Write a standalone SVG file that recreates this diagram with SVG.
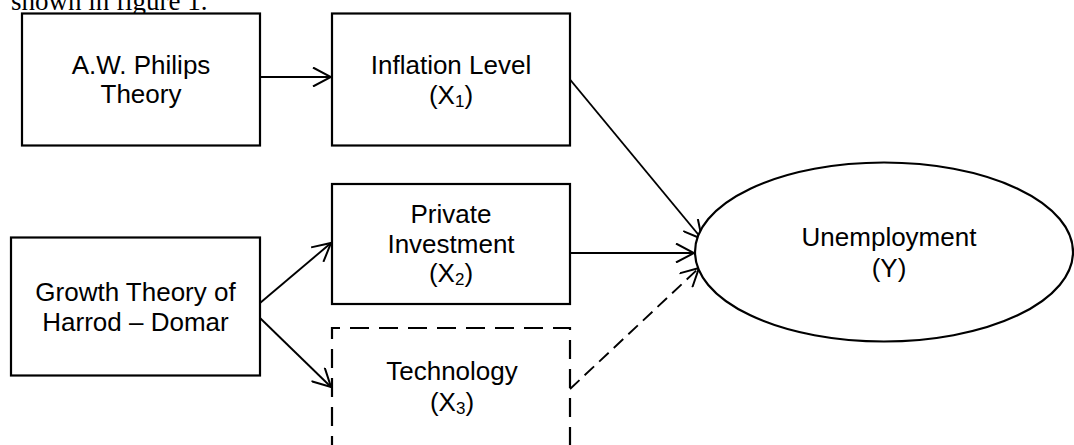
<svg xmlns="http://www.w3.org/2000/svg" width="1074" height="445" viewBox="0 0 1074 445">
<style>
  .box { fill: #ffffff; stroke: #000000; stroke-width: 2.2; }
  .dbox { fill: none; stroke: #000000; stroke-width: 2.2; stroke-dasharray: 19 10; }
  .lbl { font-family: "Liberation Sans", Arial, sans-serif; font-size: 26px; fill: #000000; text-anchor: middle; }
  .sub { font-size: 17px; }
  .conn { fill: none; stroke: #000000; stroke-width: 1.9; }
  .dash { stroke-dasharray: 13 7; }
  .cap { font-family: "Liberation Serif", "Times New Roman", serif; font-size: 27px; fill: #000000; }
</style>
<defs>
  <marker id="arr" viewBox="0 0 20 20" markerUnits="userSpaceOnUse" markerWidth="20" markerHeight="20" refX="19" refY="10" orient="auto">
    <path d="M1,0.5 L19,10 L1,19.5" fill="none" stroke="#000000" stroke-width="2" stroke-dasharray="none"/>
  </marker>
</defs>
<rect width="1074" height="445" fill="#ffffff"/>
<text class="cap" x="11" y="10">shown in figure 1.</text>

<g id="connectors">
  <line class="conn" x1="260" y1="77" x2="331" y2="77" marker-end="url(#arr)"/>
  <line class="conn" x1="570" y1="79.5" x2="702" y2="239" marker-end="url(#arr)"/>
  <line class="conn" x1="570" y1="253" x2="694" y2="253" marker-end="url(#arr)"/>
  <line class="conn" x1="260" y1="303" x2="331" y2="243" marker-end="url(#arr)"/>
  <line class="conn" x1="260" y1="318" x2="331" y2="387" marker-end="url(#arr)"/>
  <line class="conn dash" x1="570" y1="389" x2="699" y2="268" marker-end="url(#arr)"/>
</g>

<g id="node-philips">
  <rect class="box" x="22" y="13.5" width="238" height="132"/>
  <text class="lbl" x="141" y="74">A.W. Philips</text>
  <text class="lbl" x="141" y="103">Theory</text>
</g>

<g id="node-inflation">
  <rect class="box" x="332" y="13.5" width="238" height="132"/>
  <text class="lbl" x="451" y="74">Inflation Level</text>
  <text class="lbl" x="451" y="104">(X<tspan class="sub" dy="3">1</tspan><tspan dy="-3">)</tspan></text>
</g>

<g id="node-growth">
  <rect class="box" x="11" y="237.5" width="249" height="138"/>
  <text class="lbl" x="135.5" y="301">Growth Theory of</text>
  <text class="lbl" x="135.5" y="330.5">Harrod – Domar</text>
</g>

<g id="node-private">
  <rect class="box" x="332" y="184" width="238" height="120"/>
  <text class="lbl" x="451" y="223">Private</text>
  <text class="lbl" x="451" y="252.5">Investment</text>
  <text class="lbl" x="451" y="282">(X<tspan class="sub" dy="3">2</tspan><tspan dy="-3">)</tspan></text>
</g>

<g id="node-technology">
  <path class="dbox" d="M332,455 V328 H570 V455"/>
  <text class="lbl" x="452" y="380">Technology</text>
  <text class="lbl" x="452" y="411">(X<tspan class="sub" dy="3">3</tspan><tspan dy="-3">)</tspan></text>
</g>

<g id="node-unemployment">
  <ellipse class="box" cx="884" cy="252" rx="189" ry="89.5"/>
  <text class="lbl" x="889" y="245.5">Unemployment</text>
  <text class="lbl" x="889" y="277">(Y)</text>
</g>
</svg>
